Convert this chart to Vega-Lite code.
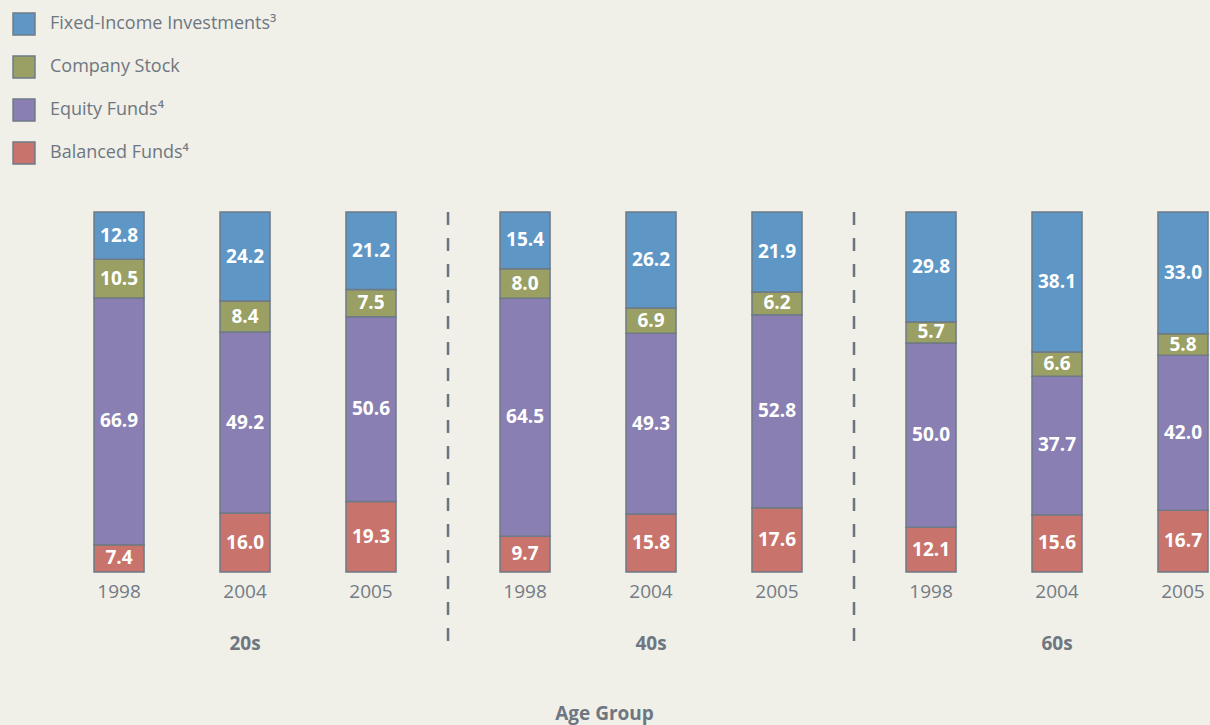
{
  "$schema": "https://vega.github.io/schema/vega-lite/v6.json",
  "width": 1208,
  "height": 360,
  "autosize": "none",
  "padding": {"left": 0, "top": 212, "right": 2, "bottom": 153},
  "background": "#f0efe8",
  "config": {
    "view": {"stroke": null},
    "font": "Open Sans"
  },
  "datasets": {
    "alloc": [
      {"group": "20s", "year": "1998", "type": "Balanced Funds⁴", "order": 1, "pct": 7.4},
      {"group": "20s", "year": "1998", "type": "Equity Funds⁴", "order": 2, "pct": 66.9},
      {"group": "20s", "year": "1998", "type": "Company Stock", "order": 3, "pct": 10.5},
      {"group": "20s", "year": "1998", "type": "Fixed-Income Investments³", "order": 4, "pct": 12.8},
      {"group": "20s", "year": "2004", "type": "Balanced Funds⁴", "order": 1, "pct": 16.0},
      {"group": "20s", "year": "2004", "type": "Equity Funds⁴", "order": 2, "pct": 49.2},
      {"group": "20s", "year": "2004", "type": "Company Stock", "order": 3, "pct": 8.4},
      {"group": "20s", "year": "2004", "type": "Fixed-Income Investments³", "order": 4, "pct": 24.2},
      {"group": "20s", "year": "2005", "type": "Balanced Funds⁴", "order": 1, "pct": 19.3},
      {"group": "20s", "year": "2005", "type": "Equity Funds⁴", "order": 2, "pct": 50.6},
      {"group": "20s", "year": "2005", "type": "Company Stock", "order": 3, "pct": 7.5},
      {"group": "20s", "year": "2005", "type": "Fixed-Income Investments³", "order": 4, "pct": 21.2},
      {"group": "40s", "year": "1998", "type": "Balanced Funds⁴", "order": 1, "pct": 9.7},
      {"group": "40s", "year": "1998", "type": "Equity Funds⁴", "order": 2, "pct": 64.5},
      {"group": "40s", "year": "1998", "type": "Company Stock", "order": 3, "pct": 8.0},
      {"group": "40s", "year": "1998", "type": "Fixed-Income Investments³", "order": 4, "pct": 15.4},
      {"group": "40s", "year": "2004", "type": "Balanced Funds⁴", "order": 1, "pct": 15.8},
      {"group": "40s", "year": "2004", "type": "Equity Funds⁴", "order": 2, "pct": 49.3},
      {"group": "40s", "year": "2004", "type": "Company Stock", "order": 3, "pct": 6.9},
      {"group": "40s", "year": "2004", "type": "Fixed-Income Investments³", "order": 4, "pct": 26.2},
      {"group": "40s", "year": "2005", "type": "Balanced Funds⁴", "order": 1, "pct": 17.6},
      {"group": "40s", "year": "2005", "type": "Equity Funds⁴", "order": 2, "pct": 52.8},
      {"group": "40s", "year": "2005", "type": "Company Stock", "order": 3, "pct": 6.2},
      {"group": "40s", "year": "2005", "type": "Fixed-Income Investments³", "order": 4, "pct": 21.9},
      {"group": "60s", "year": "1998", "type": "Balanced Funds⁴", "order": 1, "pct": 12.1},
      {"group": "60s", "year": "1998", "type": "Equity Funds⁴", "order": 2, "pct": 50.0},
      {"group": "60s", "year": "1998", "type": "Company Stock", "order": 3, "pct": 5.7},
      {"group": "60s", "year": "1998", "type": "Fixed-Income Investments³", "order": 4, "pct": 29.8},
      {"group": "60s", "year": "2004", "type": "Balanced Funds⁴", "order": 1, "pct": 15.6},
      {"group": "60s", "year": "2004", "type": "Equity Funds⁴", "order": 2, "pct": 37.7},
      {"group": "60s", "year": "2004", "type": "Company Stock", "order": 3, "pct": 6.6},
      {"group": "60s", "year": "2004", "type": "Fixed-Income Investments³", "order": 4, "pct": 38.1},
      {"group": "60s", "year": "2005", "type": "Balanced Funds⁴", "order": 1, "pct": 16.7},
      {"group": "60s", "year": "2005", "type": "Equity Funds⁴", "order": 2, "pct": 42.0},
      {"group": "60s", "year": "2005", "type": "Company Stock", "order": 3, "pct": 5.8},
      {"group": "60s", "year": "2005", "type": "Fixed-Income Investments³", "order": 4, "pct": 33.0}
    ],
    "years": [
      {"group": "20s", "year": "1998"}, {"group": "20s", "year": "2004"}, {"group": "20s", "year": "2005"},
      {"group": "40s", "year": "1998"}, {"group": "40s", "year": "2004"}, {"group": "40s", "year": "2005"},
      {"group": "60s", "year": "1998"}, {"group": "60s", "year": "2004"}, {"group": "60s", "year": "2005"}
    ],
    "separators": [
      {"group": "40s"}, {"group": "60s"}
    ]
  },
  "layer": [
    {
      "data": {"name": "alloc"},
      "transform": [
        {"stack": "pct", "groupby": ["group", "year"], "sort": [{"field": "order", "order": "ascending"}], "offset": "normalize", "as": ["y0", "y1"]}
      ],
      "mark": {"type": "bar", "stroke": "#6e7a86", "strokeWidth": 1.5},
      "encoding": {
        "x": {
          "field": "group", "type": "nominal",
          "scale": {"domain": ["20s", "40s", "60s"], "paddingInner": 0.2562, "paddingOuter": 0.1158, "align": 1},
          "axis": {
            "title": "Age Group", "domain": false, "ticks": false, "labelAngle": 0,
            "labelPadding": 62, "labelFontSize": 19, "labelFontWeight": "bold", "labelColor": "#6e7781",
            "labelFont": "Open Sans",
            "titlePadding": 51, "titleFontSize": 19, "titleFontWeight": "bold", "titleColor": "#6e7781",
            "titleFont": "Open Sans"
          }
        },
        "xOffset": {
          "field": "year", "type": "nominal",
          "scale": {"domain": ["1998", "2004", "2005"], "paddingInner": 0.603, "paddingOuter": 0}
        },
        "y": {"field": "y0", "type": "quantitative", "scale": {"domain": [0, 1]}, "axis": null},
        "y2": {"field": "y1"},
        "color": {
          "field": "type", "type": "nominal",
          "scale": {
            "domain": ["Fixed-Income Investments³", "Company Stock", "Equity Funds⁴", "Balanced Funds⁴"],
            "range": ["#5e97c6", "#9aa063", "#8a7fb3", "#c8746c"]
          },
          "legend": {
            "title": null, "orient": "none", "legendX": 12, "legendY": -200,
            "symbolType": "square", "symbolSize": 480, "symbolStrokeColor": "#6e7a86", "symbolStrokeWidth": 1.5,
            "labelFontSize": 18, "labelColor": "#6e7781", "labelFont": "Open Sans", "labelOffset": 14,
            "rowPadding": 15, "labelLimit": 400
          }
        }
      }
    },
    {
      "data": {"name": "alloc"},
      "transform": [
        {"stack": "pct", "groupby": ["group", "year"], "sort": [{"field": "order", "order": "ascending"}], "offset": "normalize", "as": ["y0", "y1"]},
        {"calculate": "(datum.y0 + datum.y1) / 2", "as": "ymid"},
        {"calculate": "format(datum.pct, '.1f')", "as": "label"}
      ],
      "mark": {"type": "text", "color": "white", "fontWeight": "bold", "fontSize": 19, "font": "Open Sans", "baseline": "middle", "align": "center"},
      "encoding": {
        "x": {"field": "group", "type": "nominal"},
        "xOffset": {"field": "year", "type": "nominal"},
        "y": {"field": "ymid", "type": "quantitative"},
        "text": {"field": "label"}
      }
    },
    {
      "data": {"name": "years"},
      "mark": {"type": "text", "color": "#737b85", "fontSize": 19, "font": "Open Sans", "baseline": "middle", "align": "center", "dy": 20},
      "encoding": {
        "x": {"field": "group", "type": "nominal"},
        "xOffset": {"field": "year", "type": "nominal"},
        "y": {"datum": 0},
        "text": {"field": "year"}
      }
    },
    {
      "data": {"name": "separators"},
      "mark": {"type": "rule", "color": "#6b7580", "strokeWidth": 2.5, "strokeDash": [13, 13]},
      "encoding": {
        "x": {"field": "group", "type": "nominal", "bandPosition": -0.1722},
        "y": {"datum": 1},
        "y2": {"datum": -0.2167}
      }
    }
  ]
}
